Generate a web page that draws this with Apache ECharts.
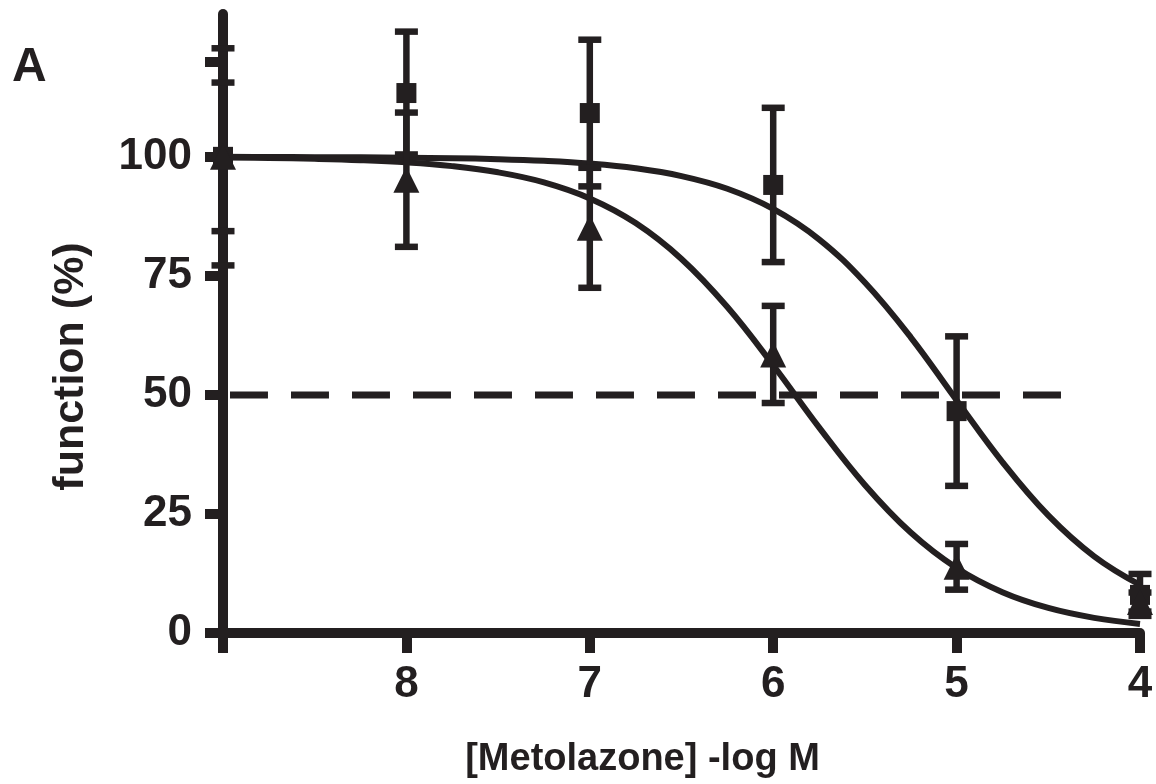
<!DOCTYPE html>
<html>
<head>
<meta charset="utf-8">
<script src="https://cdn.jsdelivr.net/npm/echarts@6/dist/echarts.min.js"></script>
<style>
  html, body { margin: 0; padding: 0; background: #fff; }
  #chart { width: 1156px; height: 784px; }
</style>
</head>
<body>
<div id="chart"></div>
<script>
// concentrations (-log M) where the points were measured
const doses = [9, 8, 7, 6, 5, 4]
// squares
const squareMean = [100, 113.4, 109.2, 94.1, 46.6, 8.0]
const squareErr = [22.8, 12.9, 15.4, 16.2, 15.7, 4.4]
// triangles
const triMean = [100, 95.2, 85.1, 58.5, 13.9, 6.5]
const triErr = [15.6, 14.1, 12.6, 10.2, 4.8, 2.0]

// fitted curves
const fitX = [9, 8.75, 8.5, 8.25, 8, 7.75, 7.5, 7.25, 7, 6.75, 6.5, 6.25, 6, 5.75, 5.5, 5.25, 5, 4.75, 4.5, 4.25, 4]
const squareFit = [100, 99.97, 99.94, 99.9, 99.83, 99.71, 99.51, 99.16, 98.58, 97.6, 95.96, 93.3, 89.07, 82.68, 73.6, 62.1, 48.9, 35.9, 24.7, 16.1, 10.1]
const triFit = [99.86, 99.76, 99.59, 99.31, 98.84, 98.05, 96.75, 94.64, 91.27, 86.1, 78.56, 68.46, 56.24, 43.2, 31.1, 21.1, 13.66, 8.57, 5.26, 3.18, 1.91]

// 50 % reference line
const halfX = [8.962, 4.37]
const halfY = [50, 50]

// axis ticks
const yLabels = [0, 25, 50, 75, 100]
const yTicks = [0, 25, 50, 75, 100, 120]

const ink = '#231f20'
const font = '"Liberation Sans", Arial, Helvetica, sans-serif'

const zip = (xs, ys) => xs.map((x, i) => [x, ys[i]])

// 误差线
const errorBar = (params, api) => {
  const x = api.value(0)
  const lo = api.coord([x, api.value(1)])
  const hi = api.coord([x, api.value(2)])
  const hw = 11.5
  const style = { stroke: ink, lineWidth: 6.5 }
  return {
    type: 'group',
    children: [
      { type: 'line', shape: { x1: lo[0], y1: lo[1], x2: hi[0], y2: hi[1] }, style },
      { type: 'line', shape: { x1: lo[0] - hw, y1: lo[1], x2: lo[0] + hw, y2: lo[1] }, style },
      { type: 'line', shape: { x1: hi[0] - hw, y1: hi[1], x2: hi[0] + hw, y2: hi[1] }, style }
    ]
  }
}

const options = {
  animation: false,
  backgroundColor: '#fff',
  title: {
    text: 'A',
    left: 12,
    top: 44,
    padding: 0,
    textStyle: { color: ink, fontSize: 48, fontWeight: 'bold', fontFamily: font }
  },
  grid: { left: 223, right: 16, top: 14, bottom: 151 },
  xAxis: {
    type: 'value',
    min: 4,
    max: 9,
    interval: 1,
    inverse: true,
    name: '[Metolazone] -log M',
    nameLocation: 'middle',
    nameGap: 108,
    nameTextStyle: { color: ink, fontSize: 38, fontWeight: 'bold', fontFamily: font, padding: [0, 78, 0, 0] },
    axisLine: { onZero: false, lineStyle: { color: ink, width: 10 } },
    axisTick: { length: 20, lineStyle: { color: ink, width: 10 } },
    axisLabel: {
      margin: 30,
      color: ink,
      fontSize: 44,
      fontWeight: 'bold',
      fontFamily: font,
      formatter: v => (v === 9 ? '' : String(v))
    },
    splitLine: { show: false }
  },
  yAxis: {
    type: 'value',
    min: 0,
    max: 130,
    name: 'function (%)',
    nameLocation: 'middle',
    nameRotate: 90,
    nameGap: 130,
    nameTextStyle: { color: ink, fontSize: 43, fontWeight: 'bold', fontFamily: font, padding: [0, 86, 0, 0] },
    axisLine: { show: true, onZero: false, lineStyle: { color: ink, width: 10 } },
    axisTick: { show: true, length: 18, customValues: yTicks, lineStyle: { color: ink, width: 10 } },
    axisLabel: {
      margin: 31,
      color: ink,
      fontSize: 44,
      fontWeight: 'bold',
      fontFamily: font,
      customValues: yLabels
    },
    splitLine: { show: false }
  },
  series: [
    {
      name: 'half',
      type: 'line',
      data: zip(halfX, halfY),
      showSymbol: false,
      lineStyle: { color: ink, width: 7, type: [38, 23] },
      z: 1
    },
    {
      name: 'squareFit',
      type: 'line',
      data: zip(fitX, squareFit),
      smooth: 0.4,
      showSymbol: false,
      lineStyle: { color: ink, width: 6 },
      z: 2
    },
    {
      name: 'triFit',
      type: 'line',
      data: zip(fitX, triFit),
      smooth: 0.4,
      showSymbol: false,
      lineStyle: { color: ink, width: 6 },
      z: 2
    },
    {
      name: 'squareErr',
      type: 'custom',
      renderItem: errorBar,
      data: doses.map((d, i) => [d, squareMean[i] - squareErr[i], squareMean[i] + squareErr[i]]),
      z: 3
    },
    {
      name: 'triErr',
      type: 'custom',
      renderItem: errorBar,
      data: doses.map((d, i) => [d, triMean[i] - triErr[i], triMean[i] + triErr[i]]),
      z: 3
    },
    {
      name: 'square',
      type: 'scatter',
      data: zip(doses, squareMean),
      symbol: 'rect',
      symbolSize: 20,
      itemStyle: { color: ink, opacity: 1 },
      z: 4
    },
    {
      name: 'triangle',
      type: 'scatter',
      data: zip(doses, triMean),
      symbol: 'triangle',
      symbolSize: [26, 26],
      itemStyle: { color: ink, opacity: 1 },
      z: 4
    }
  ]
}

const chart = echarts.init(document.getElementById('chart'), null, { renderer: 'canvas' })
chart.setOption(options)
</script>
</body>
</html>
